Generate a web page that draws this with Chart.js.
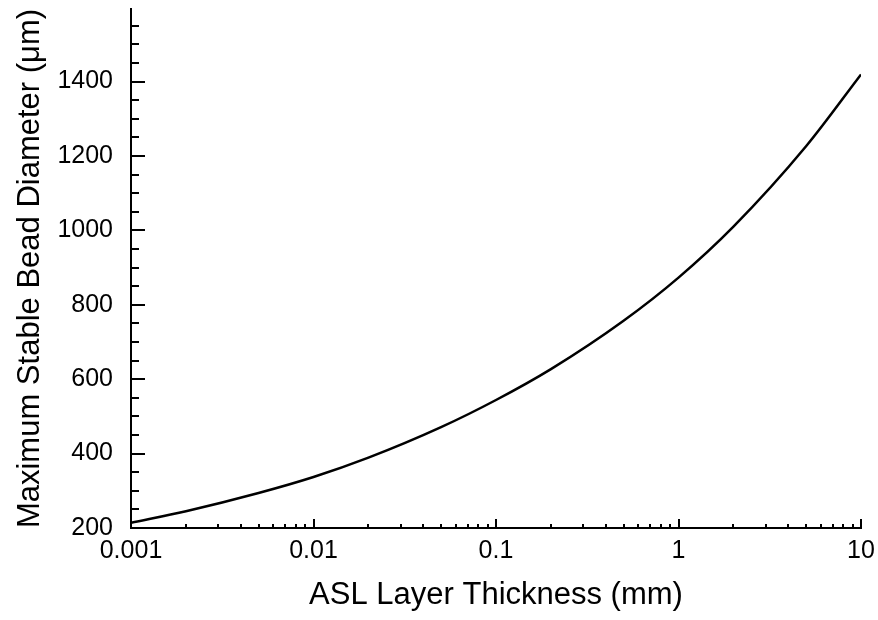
<!DOCTYPE html>
<html>
<head>
<meta charset="utf-8">
<script src="https://cdn.jsdelivr.net/npm/chart.js@4/dist/chart.umd.min.js"></script>
<style>
  body { margin: 0; background: #fff; }
  #wrap { width: 878px; height: 620px; }
</style>
</head>
<body>
<div id="wrap"><canvas id="beadChart"></canvas></div>
<script>
// layer thickness (mm) and max stable bead diameter (um)
const thickness = [0.001, 0.002, 0.005, 0.01, 0.02, 0.05, 0.1, 0.2, 0.5, 1, 2, 5, 10];
const diameter = [214, 245, 294, 337, 389, 471, 544, 627, 757, 873, 1010, 1226, 1419];

const xTicks = [0.001, 0.01, 0.1, 1, 10];
const yTicks = [200, 400, 600, 800, 1000, 1200, 1400];

const font = "'Liberation Sans', Arial, sans-serif";

// ticks drawn inward, with minor ticks
const innerTicks = {
  id: 'innerTicks',
  afterDraw(chart) {
    const ctx = chart.ctx;
    const x = chart.scales.x;
    const y = chart.scales.y;
    ctx.save();
    ctx.strokeStyle = '#000';
    ctx.lineWidth = 2;
    ctx.beginPath();
    for (let v = 200; v <= 1550; v += 50) {
      const py = Math.round(y.getPixelForValue(v));
      const len = v % 200 === 0 ? 14 : 8;
      ctx.moveTo(x.left, py);
      ctx.lineTo(x.left + len, py);
    }
    for (let d = 0.001; d < 10.5; d *= 10) {
      for (let m = 1; m <= 9; m++) {
        const val = d * m;
        if (d > 5 && m > 1) continue;
        const px = Math.round(x.getPixelForValue(val));
        const len = m === 1 ? 9 : 4;
        ctx.moveTo(px, y.bottom);
        ctx.lineTo(px, y.bottom - len);
      }
    }
    ctx.stroke();
    ctx.restore();
  }
};

new Chart(document.getElementById('beadChart'), {
  type: 'line',
  data: {
    datasets: [{
      data: thickness.map((t, i) => ({ x: t, y: diameter[i] })),
      borderColor: '#000',
      borderWidth: 2.5,
      pointRadius: 0,
      fill: false,
      cubicInterpolationMode: 'monotone'
    }]
  },
  options: {
    responsive: true,
    maintainAspectRatio: false,
    animation: false,
    layout: { padding: { top: 9, right: 17, left: 8, bottom: 2 } },
    plugins: { legend: { display: false }, tooltip: { enabled: false } },
    scales: {
      x: {
        type: 'logarithmic',
        min: 0.001,
        max: 10,
        afterBuildTicks: s => { s.ticks = xTicks.map(v => ({ value: v })); },
        afterFit: s => { s.height = 90; s.paddingLeft = 0; s.paddingRight = 0; },
        grid: { display: false, drawTicks: false },
        border: { display: true, color: '#000', width: 2 },
        ticks: {
          color: '#000',
          padding: 8,
          maxRotation: 0,
          font: { family: font, size: 25 },
          callback: v => String(v)
        },
        title: {
          display: true,
          text: 'ASL Layer Thickness (mm)',
          color: '#000',
          font: { family: font, size: 31 },
          padding: { top: 4, bottom: 4 }
        }
      },
      y: {
        min: 200,
        max: 1595,
        afterBuildTicks: s => { s.ticks = yTicks.map(v => ({ value: v })); },
        afterFit: s => { s.width = 123; s.paddingTop = 0; s.paddingBottom = 0; },
        grid: { display: false, drawTicks: false },
        border: { display: true, color: '#000', width: 2 },
        ticks: {
          color: '#000',
          padding: 18,
          font: { family: font, size: 25 },
          callback: v => String(v)
        },
        title: {
          display: true,
          text: 'Maximum Stable Bead Diameter (μm)',
          color: '#000',
          font: { family: font, size: 31 },
          padding: { top: 4, bottom: 4 }
        }
      }
    }
  },
  plugins: [innerTicks]
});
</script>
</body>
</html>
